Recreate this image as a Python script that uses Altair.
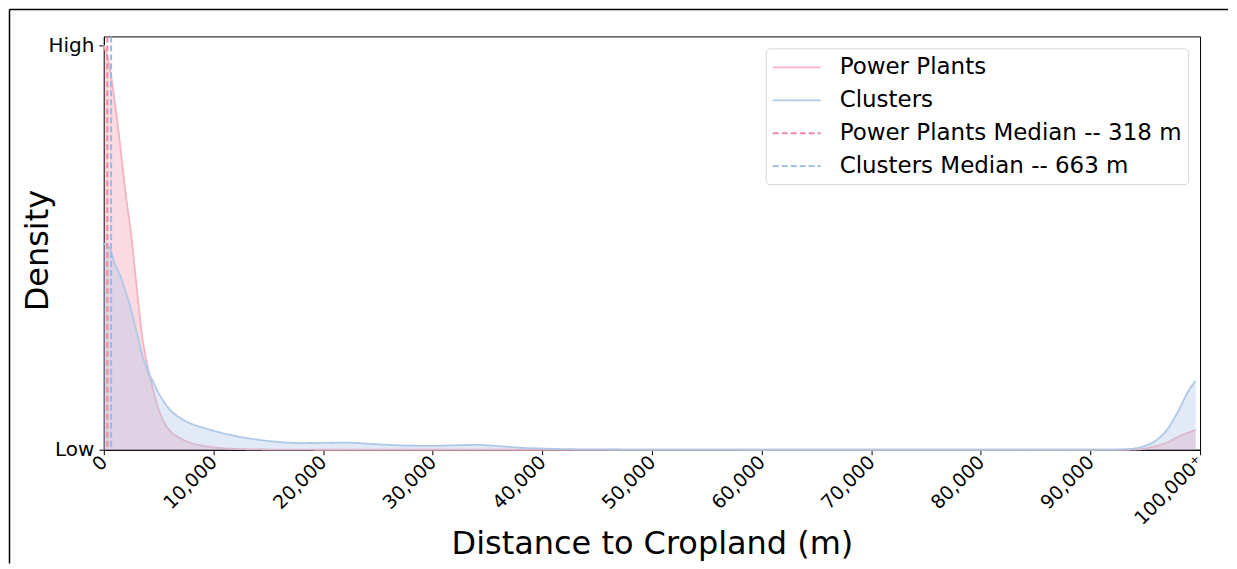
import altair as alt
import pandas as pd

# ---------------- data ----------------
series_names = ["Power Plants", "Clusters"]
median_names = ["Power Plants Median -- 318 m", "Clusters Median -- 663 m"]
median_values = [318, 663]

# Power Plants KDE (distance in m, density scaled so that max = 1 = "High")
pp_dist = [0, 500, 1000, 1500, 2000, 2500, 3000, 3500, 4000, 4500, 5000, 5500,
           6000, 7000, 8000, 9000, 10000, 12000, 15000, 20000, 30000, 40000,
           50000, 60000, 70000, 80000, 90000, 93500, 94500, 95500, 96500,
           97000, 98000, 99000, 99600]
pp_dens = [1.0, 0.95, 0.86, 0.75, 0.63, 0.53, 0.40, 0.28, 0.205, 0.148, 0.10,
           0.068, 0.048, 0.028, 0.016, 0.010, 0.006, 0.002, 0.0005, 0.0, 0.0,
           0.0, 0.0, 0.0, 0.0, 0.0, 0.0, 0.0, 0.001, 0.006, 0.013, 0.018,
           0.032, 0.043, 0.049]

# Clusters KDE
cl_dist = [0, 500, 1000, 1500, 2000, 2500, 3000, 3500, 4000, 4500, 5000, 5500,
           6000, 7000, 8000, 9000, 10000, 12000, 14000, 16000, 18000, 20000,
           22000, 24000, 26000, 28000, 30000, 32000, 34000, 36000, 38000,
           40000, 42000, 45000, 50000, 60000, 70000, 80000, 90000, 92000,
           93000, 94000, 95000, 96000, 97000, 98000, 99000, 99600]
cl_dens = [0.51, 0.50, 0.46, 0.43, 0.39, 0.345, 0.29, 0.235, 0.195, 0.168,
           0.14, 0.118, 0.10, 0.078, 0.064, 0.055, 0.047, 0.034, 0.025, 0.019,
           0.0165, 0.017, 0.0175, 0.015, 0.012, 0.010, 0.0095, 0.011, 0.012,
           0.009, 0.005, 0.003, 0.0015, 0.0008, 0.0003, 0.0, 0.0, 0.0, 0.0,
           0.0003, 0.001, 0.003, 0.010, 0.023, 0.050, 0.095, 0.148, 0.170]

x_ticks = [0, 10000, 20000, 30000, 40000, 50000, 60000, 70000, 80000, 90000, 100000]
y_ticks = [0, 1]

# ---------------- colours ----------------
legend_domain = series_names + median_names
legend_colors = ["#f5b3c2", "#aec8e8", "#ec8aa3", "#94bce4"]
legend_dashes = [[1, 0], [1, 0], [6, 3], [6, 3]]
fill_colors = ["#f4a6b8", "#a9c4e6"]

kde = pd.concat([
    pd.DataFrame({"dist": pp_dist, "dens": pp_dens, "series": series_names[0]}),
    pd.DataFrame({"dist": cl_dist, "dens": cl_dens, "series": series_names[1]}),
], ignore_index=True)
med = pd.DataFrame({"median": median_values, "series": median_names})

FONT = "DejaVu Sans"
W, H = 1098, 414

x_enc = alt.X(
    "dist:Q",
    scale=alt.Scale(domain=[0, 100000], nice=False, zero=False),
    axis=alt.Axis(
        title="Distance to Cropland (m)", values=x_ticks,
        labelExpr="datum.value == 100000 ? '100,000\u207a' : format(datum.value, ',')",
        labelAngle=-45, labelAlign="right", labelBaseline="middle",
        labelFontSize=19, labelColor="black", labelPadding=4,
        tickSize=5, tickColor="black", domainColor="black", grid=False,
        titleFontSize=32, titleFontWeight="normal", titleColor="black",
        titleY=94, titleBaseline="middle",
    ),
)
y_enc = alt.Y(
    "dens:Q",
    scale=alt.Scale(domain=[0, 1.022], nice=False),
    axis=alt.Axis(
        title="Density", values=y_ticks,
        labelExpr="datum.value == 1 ? 'High' : 'Low'",
        labelFontSize=20, labelColor="black", labelPadding=5,
        tickSize=5, tickColor="black", domainColor="black", grid=False,
        titleFontSize=32, titleFontWeight="normal", titleColor="black",
        titleX=-66, titleY=214, titleBaseline="middle", titleAngle=-90,
    ),
)

legend_cfg = dict(
    title=None, orient="top-right", offset=12,
    fillColor="white", strokeColor="#d6d6d6", cornerRadius=4, padding=6,
    labelFontSize=23, labelColor="black", labelOffset=42,
    symbolType="M-1,0H3", symbolSize=576, symbolStrokeWidth=1.8,
    rowPadding=8, labelLimit=600,
)
color_enc = alt.Color(
    "series:N",
    scale=alt.Scale(domain=legend_domain, range=legend_colors),
    legend=alt.Legend(**legend_cfg),
)
dash_enc = alt.StrokeDash(
    "series:N",
    scale=alt.Scale(domain=legend_domain, range=legend_dashes),
    legend=alt.Legend(**legend_cfg),
)
fill_enc = alt.Fill(
    "series:N",
    scale=alt.Scale(domain=series_names, range=fill_colors),
    legend=None,
)

base = alt.Chart(kde)


def kde_layers(name, opacity):
    sub = base.transform_filter(alt.datum.series == name)
    area = sub.mark_area(interpolate="monotone", fillOpacity=opacity).encode(
        x=x_enc, y=y_enc, fill=fill_enc
    )
    line = sub.mark_line(interpolate="monotone", strokeWidth=1.8).encode(
        x="dist:Q", y="dens:Q", color=color_enc, strokeDash=dash_enc
    )
    return [area, line]


layers = kde_layers(series_names[0], 0.4) + kde_layers(series_names[1], 0.35)

rules = alt.Chart(med).mark_rule(strokeWidth=2).encode(
    x=alt.X("median:Q"), color=color_enc, strokeDash=dash_enc
)

one = alt.Data(values=[{"k": 1}])
frame_left = alt.Chart(one).mark_rule(color="black", strokeWidth=1.5).encode(
    x=alt.value(-94.5), y=alt.value(-27), y2=alt.value(528)
)
frame_top = alt.Chart(one).mark_rule(color="black", strokeWidth=1.5).encode(
    x=alt.value(-94.5), x2=alt.value(1126), y=alt.value(-27)
)

chart = alt.layer(*layers, rules, frame_left, frame_top).properties(
    width=W, height=H, padding=0, background="white"
).configure(font=FONT).configure_view(stroke="black", strokeWidth=1)

chart.save("out.html", embed_options={"renderer": "svg", "actions": False})
